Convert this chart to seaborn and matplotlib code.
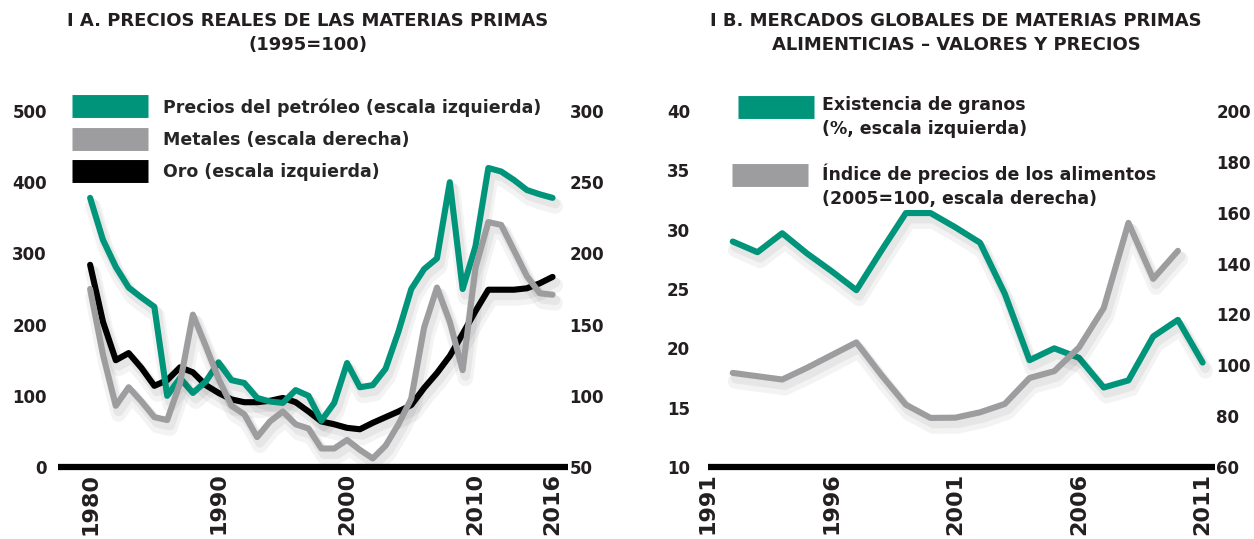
import matplotlib
matplotlib.use("Agg")
import matplotlib.pyplot as plt
import matplotlib.patheffects as pe
from matplotlib.lines import Line2D
import seaborn as sns

# ---- datos panel A (1995=100) ----
years_a = list(range(1980, 2017))
oil = [378, 319, 281, 252, 238, 225, 100, 125, 104, 120,
       147, 122, 118, 97, 92, 90, 108, 100, 65, 90,
       146, 112, 115, 138, 190, 250, 278, 293, 400, 250,
       310, 420, 415, 403, 389, 383, 378]
gold = [284, 204, 150, 160, 139, 114, 122, 140, 133, 115,
        104, 95, 91, 91, 93, 97, 91, 78, 64, 60,
        55, 53, 62, 70, 78, 87, 111, 132, 156, 187,
        219, 249, 249, 249, 251, 258, 267]
metals = [175, 129, 93, 106, 96, 85, 83, 109, 157, 135,
          112, 93, 87, 71, 82, 89, 80, 77, 63, 63,
          69, 62, 56, 65, 80, 98, 148, 176, 152, 118,
          190, 222, 220, 202, 184, 172, 171]
ticks_a = [1980, 1990, 2000, 2010, 2016]

# ---- datos panel B ----
years_b = list(range(1992, 2012))
grain_stocks = [29.0, 28.1, 29.7, 28.0, 26.5, 24.9, 28.2, 31.4, 31.4, 30.2,
                28.9, 24.6, 19.0, 20.0, 19.2, 16.7, 17.3, 21.0, 22.4, 18.8]
food_years = list(range(1992, 2011))
food_index = [97, 95.7, 94.4, 99, 104, 109, 96.3, 84.5, 79.3, 79.4,
              81.5, 84.8, 95, 97.7, 107, 122.5, 156, 134, 145]
ticks_b = [1991, 1996, 2001, 2006, 2011]

GREEN = "#00957a"
GREY = "#9d9d9f"
BLACK = "#000000"
TXT = "#231f20"

sns.set_theme(style="white")
plt.rcParams["font.family"] = ["DejaVu Sans"]

fig = plt.figure(figsize=(12.54, 5.39), dpi=100)
W, H = 1254, 539

def px_axes(x0, x1, y_top, y_bot):
    return fig.add_axes([x0 / W, 1 - y_bot / H, (x1 - x0) / W, (y_bot - y_top) / H])

shadow = [pe.SimpleLineShadow(offset=(2, -6), shadow_color="k", alpha=0.05, linewidth=11),
          pe.SimpleLineShadow(offset=(2, -4), shadow_color="k", alpha=0.06, linewidth=7),
          pe.Normal()]
LW = 4.4

def style(ax, left_ticks, right_ax, right_ticks, xticks, left_pad):
    for s in ["top", "right", "left"]:
        ax.spines[s].set_visible(False)
    ax.spines["bottom"].set_linewidth(4.5)
    ax.spines["bottom"].set_color(BLACK)
    ax.spines["bottom"].set_capstyle("butt")
    ax.set_yticks(left_ticks)
    ax.set_xticks(xticks)
    ax.set_xticklabels([str(t) for t in xticks], rotation=90, fontsize=16,
                       fontweight="bold", color=TXT)
    ax.tick_params(axis="x", length=0, pad=4)
    ax.tick_params(axis="y", length=0, pad=left_pad, labelsize=12, labelcolor=TXT)
    for t in ax.get_yticklabels():
        t.set_fontweight("bold")
    for s in ["top", "right", "left", "bottom"]:
        right_ax.spines[s].set_visible(False)
    right_ax.set_yticks(right_ticks)
    right_ax.tick_params(axis="y", length=0, pad=1, labelsize=12, labelcolor=TXT)
    for t in right_ax.get_yticklabels():
        t.set_fontweight("bold")
    ax.set_xlabel("")
    ax.set_ylabel("")
    right_ax.set_ylabel("")
    ax.grid(False)
    right_ax.grid(False)

# ---------------- Panel A ----------------
axA = px_axes(58, 568, 111, 467)
axA2 = axA.twinx()
sns.lineplot(x=years_a, y=gold, ax=axA, color=BLACK, lw=LW, path_effects=shadow)
sns.lineplot(x=years_a, y=oil, ax=axA, color=GREEN, lw=LW, path_effects=shadow)
sns.lineplot(x=years_a, y=metals, ax=axA2, color=GREY, lw=LW, path_effects=shadow)
axA.set_xlim(1977.5, 2017.2)
axA.set_ylim(0, 500)
axA2.set_ylim(50, 300)
style(axA, [0, 100, 200, 300, 400, 500], axA2, [50, 100, 150, 200, 250, 300], ticks_a, 8)

handles_a = [Line2D([], [], color=GREEN, lw=16.5, solid_capstyle="butt"),
             Line2D([], [], color=GREY, lw=16.5, solid_capstyle="butt"),
             Line2D([], [], color=BLACK, lw=16.5, solid_capstyle="butt")]
labels_a = ["Precios del petróleo (escala izquierda)",
            "Metales (escala derecha)",
            "Oro (escala izquierda)"]
fig.legend(handles_a, labels_a, loc="upper left", bbox_to_anchor=(72 / W, 1 - 98 / H),
           frameon=False, handlelength=4.4, handletextpad=0.85,
           labelspacing=0.82, borderpad=0, borderaxespad=0,
           prop={"weight": "bold", "size": 12.5})

fig.text(308 / W, 1 - 12 / H, "I A. PRECIOS REALES DE LAS MATERIAS PRIMAS\n(1995=100)",
         ha="center", va="top", fontsize=13, fontweight="bold", color=TXT, linespacing=1.4)

# ---------------- Panel B ----------------
axB = px_axes(708, 1215, 111, 467)
axB2 = axB.twinx()
sns.lineplot(x=years_b, y=grain_stocks, ax=axB, color=GREEN, lw=LW, path_effects=shadow)
sns.lineplot(x=food_years, y=food_index, ax=axB2, color=GREY, lw=LW, path_effects=shadow)
axB.set_xlim(1991.25, 2011.5)
axB.set_ylim(10, 40)
axB2.set_ylim(60, 200)
style(axB, [10, 15, 20, 25, 30, 35, 40], axB2, [60, 80, 100, 120, 140, 160, 180, 200], ticks_b, 13)

# leyenda panel B (etiquetas en dos líneas, marca alineada con la primera)
legend_b = [(GREEN, 738, 107, "Existencia de granos\n(%, escala izquierda)"),
            (GREY, 732, 175, "Índice de precios de los alimentos\n(2005=100, escala derecha)")]
for col, xh, yc, lab in legend_b:
    fig.add_artist(Line2D([xh / W, (xh + 76) / W], [1 - yc / H, 1 - yc / H], color=col,
                          lw=16.5, solid_capstyle="butt", transform=fig.transFigure))
    fig.text(822 / W, 1 - (yc - 11) / H, lab, ha="left", va="top", fontsize=12.5,
             fontweight="bold", color=TXT, linespacing=1.4)

fig.text(956 / W, 1 - 12 / H, "I B. MERCADOS GLOBALES DE MATERIAS PRIMAS\nALIMENTICIAS – VALORES Y PRECIOS",
         ha="center", va="top", fontsize=13, fontweight="bold", color=TXT, linespacing=1.4)

fig.savefig("out.png", dpi=100)
